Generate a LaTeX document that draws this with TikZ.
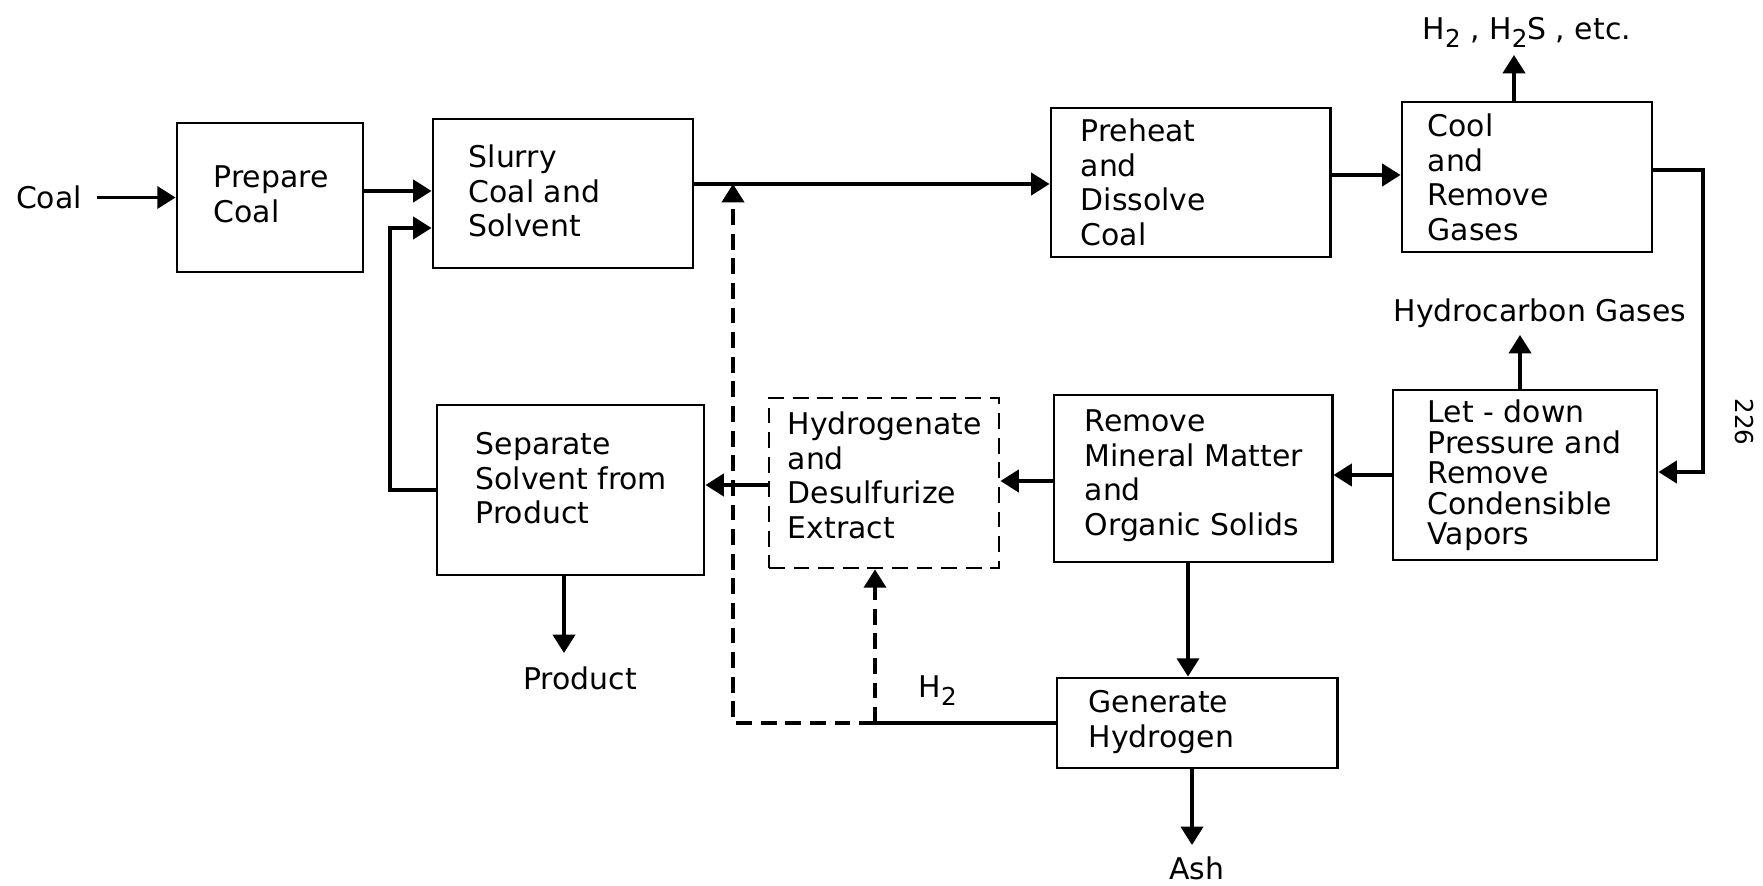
\documentclass[tikz,border=0pt]{standalone}
\usepackage{fontspec}
\setmainfont{DejaVu Sans}
\usetikzlibrary{arrows.meta}
\newcommand\mlines[1]{\begin{minipage}[t]{4cm}\raggedright #1\end{minipage}}
\newcommand\hsub[1]{\raisebox{-0.45ex}{\fontsize{7}{8}\selectfont #1}}
\begin{document}
\begin{tikzpicture}[x=0.01cm,y=-0.01cm,
  blk/.style={draw, line width=0.8pt, inner sep=0pt},
  dblk/.style={blk, dash pattern=on 4.5pt off 2.5pt},
  txt/.style={anchor=base west, inner sep=0pt, font=\fontsize{8.5}{9.8}\selectfont},
  lbl/.style={inner sep=0pt, font=\fontsize{8.5}{9.8}\selectfont},
  tip/.style={-{Triangle[length=5.2pt,width=6.3pt]}},
  arr/.style={line width=0.95pt, tip},
  ln/.style={line width=0.95pt},
  dl/.style={line width=0.95pt, dash pattern=on 4.5pt off 2.5pt},
]
\useasboundingbox (0,0) rectangle (1763,886);

% boxes
\node[blk, minimum width=1.86cm, minimum height=1.49cm] (prep) at (270,197.5) {};
\node[blk, minimum width=2.60cm, minimum height=1.49cm] (slurry) at (563,193.5) {};
\node[blk, minimum width=2.79cm, minimum height=1.49cm] (preheat) at (1190.5,182.5) {};
\node[blk, minimum width=2.50cm, minimum height=1.50cm] (cool) at (1527,177) {};
\node[blk, minimum width=2.64cm, minimum height=1.70cm] (letdown) at (1525,475) {};
\node[blk, minimum width=2.78cm, minimum height=1.67cm] (remove) at (1193,478.5) {};
\node[dblk, minimum width=2.30cm, minimum height=1.70cm] (hydro) at (884,483) {};
\node[blk, minimum width=2.67cm, minimum height=1.70cm] (separate) at (570.5,490) {};
\node[blk, minimum width=2.80cm, minimum height=0.90cm] (generate) at (1197,723) {};

% box texts
\node[txt] (prept) at (213,188) {\mlines{Prepare\\Coal}};
\node[txt] (slurryt) at (468,168) {\mlines{Slurry\\Coal and\\Solvent}};
\node[txt] (preheatt) at (1080,142) {\mlines{Preheat\\and\\Dissolve\\Coal}};
\node[txt] (coolt) at (1427,137) {\mlines{Cool\\and\\Remove\\Gases}};
\node[txt, font=\fontsize{8.5}{8.65}\selectfont] (letdownt) at (1427,423) {\mlines{Let - down\\Pressure and\\Remove\\Condensible\\Vapors}};
\node[txt] (removet) at (1084,432) {\mlines{Remove\\Mineral Matter\\and\\Organic Solids}};
\node[txt] (hydrot) at (787,435) {\mlines{Hydrogenate\\and\\Desulfurize\\Extract}};
\node[txt] (separatet) at (475,455) {\mlines{Separate\\Solvent from\\Product}};
\node[txt] (generatet) at (1088,713) {\mlines{Generate\\Hydrogen}};

% free labels
\node[lbl, inner xsep=0.14cm] (coal) at (49,197.5) {Coal};
\node[lbl, anchor=base west] (h2s) at (1422,40) {H\hsub{2} , H\hsub{2}S , etc.};
\node[lbl, anchor=base] (hcg) at (1540,322) {Hydrocarbon Gases};
\node[lbl, anchor=base] (prod) at (580,690) {Product};
\node[lbl, anchor=base] (ash) at (1197,880) {Ash};
\node[lbl, anchor=base west] (h2) at (918,698) {H\hsub{2}};
\node[lbl, rotate=-90, font=\fontsize{7}{8}\selectfont] (pg) at (1744,422) {226};

% coordinates
\coordinate (rc) at (390,228);
\coordinate (j1) at (733,184);
\coordinate (h2tip) at (1514,55);
\coordinate (rt) at (1703,472);
\coordinate (hctip) at (1520,335);
\coordinate (prodtip) at (564,653);
\coordinate (ashtip) at (1192,845);
\coordinate (jb) at (875,723);
\coordinate (jc) at (733,723);

% connectors
\draw[arr] (coal.east) -- (prep.west);
\draw[arr] (prep.east |- 0,191) -- (slurry.west |- 0,191);
\draw[arr] (separate.west |- 0,490) -| (rc) -- (slurry.west |- rc);
\draw[arr] (slurry.east |- j1) -- (preheat.west |- j1);
\draw[arr] (preheat.east |- 0,175) -- (cool.west |- 0,175);
\draw[arr] (cool.north -| h2tip) -- (h2tip);
\draw[arr] (cool.east |- 0,170) -| (rt) -- (letdown.east |- rt);
\draw[arr] (letdown.north -| hctip) -- (hctip);
\draw[arr] (letdown.west |- 0,475) -- (remove.east |- 0,475);
\draw[arr] (remove.west |- 0,481) -- (hydro.east |- 0,481);
\draw[arr] (hydro.west |- 0,485) -- (separate.east |- 0,485);
\draw[arr] (separate.south -| prodtip) -- (prodtip);
\draw[arr] (remove.south -| 1188,0) -- (generate.north -| 1188,0);
\draw[arr] (generate.south -| ashtip) -- (ashtip);
\draw[ln] (generate.west |- jb) -- (jb);
\draw[dl, tip] (jb) -- (jc) -- (j1);
\draw[dl, tip] (jb) -- (hydro.south -| jb);
\end{tikzpicture}
\end{document}
